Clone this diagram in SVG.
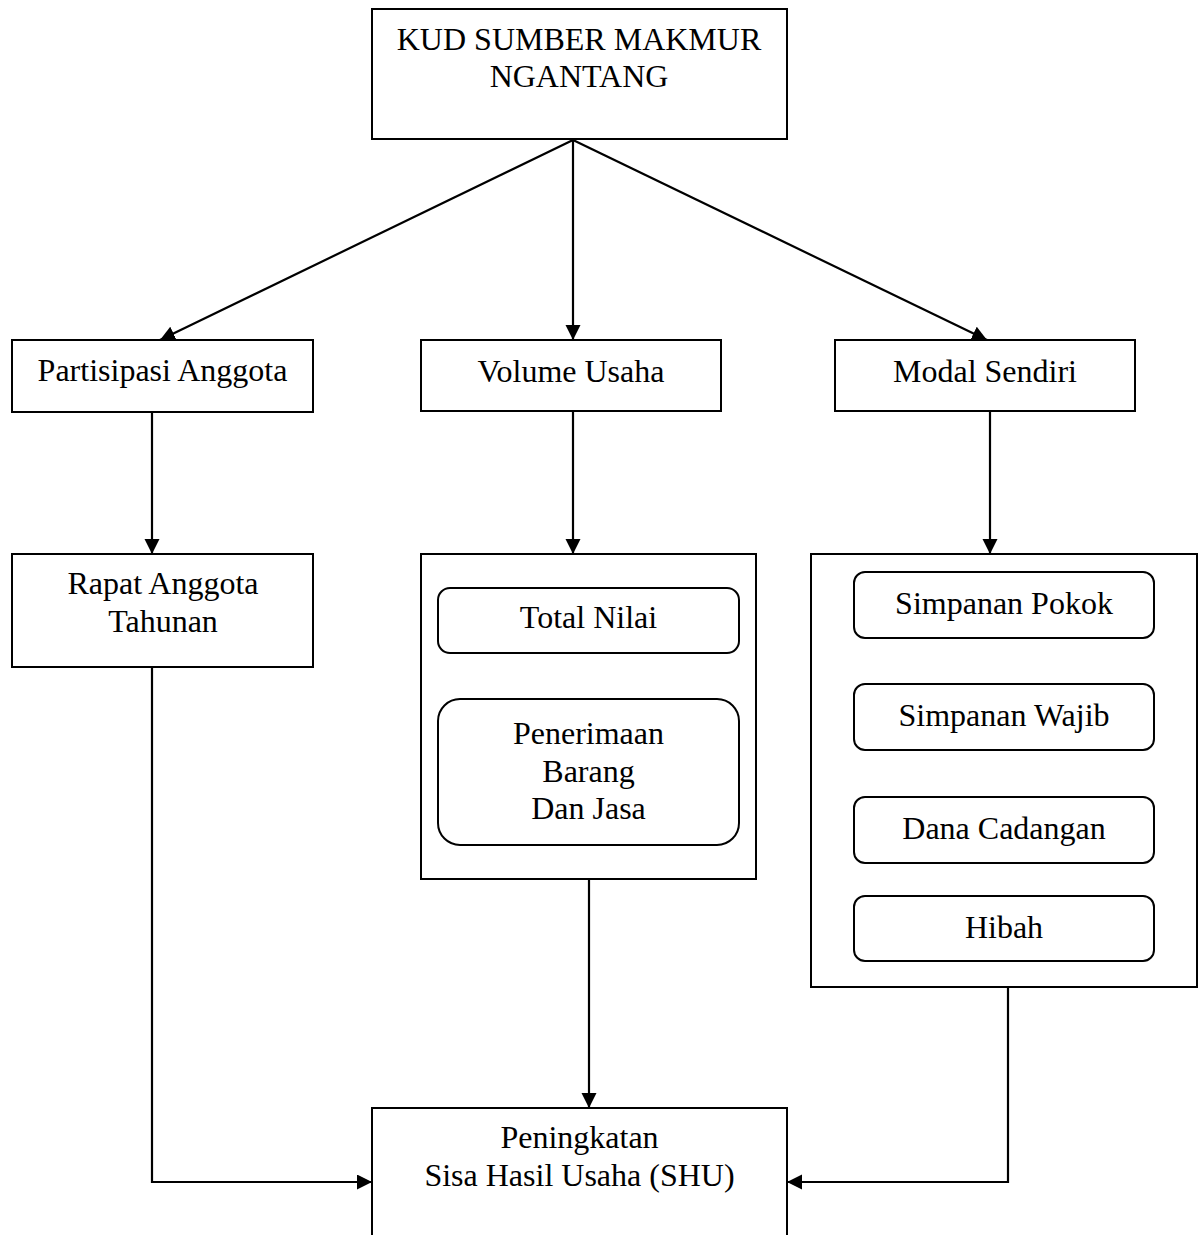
<svg xmlns="http://www.w3.org/2000/svg" width="1204" height="1235" viewBox="0 0 1204 1235">
<style>
.box{fill:#fff;stroke:#000;stroke-width:2}
.rbox{fill:#fff;stroke:#000;stroke-width:2}
.t{font-family:"Liberation Serif","Times New Roman",serif;font-size:32px;fill:#000;text-anchor:middle}
.c{fill:none;stroke:#000;stroke-width:2.2}
</style>
<defs>
<marker id="ah" markerUnits="userSpaceOnUse" markerWidth="16" markerHeight="16" refX="15" refY="7.5" orient="auto">
<path d="M0,0 L15,7.5 L0,15 z" fill="#000"/>
</marker>
</defs>
<rect width="1204" height="1235" fill="#fff"/>
<g id="connectors">
<line class="c" x1="573" y1="140" x2="160" y2="340" marker-end="url(#ah)"/>
<line class="c" x1="573" y1="140" x2="573" y2="340" marker-end="url(#ah)"/>
<line class="c" x1="573" y1="140" x2="987" y2="340" marker-end="url(#ah)"/>
<line class="c" x1="152" y1="412" x2="152" y2="554" marker-end="url(#ah)"/>
<line class="c" x1="573" y1="411" x2="573" y2="554" marker-end="url(#ah)"/>
<line class="c" x1="990" y1="411" x2="990" y2="554" marker-end="url(#ah)"/>
<polyline class="c" points="152,667 152,1182 372,1182" marker-end="url(#ah)"/>
<line class="c" x1="589" y1="879" x2="589" y2="1108" marker-end="url(#ah)"/>
<polyline class="c" points="1008,987 1008,1182 787,1182" marker-end="url(#ah)"/>
</g>
<g id="kud">
<rect class="box" x="372" y="9" width="415" height="130"/>
<text class="t" x="579" y="50">KUD SUMBER MAKMUR</text>
<text class="t" x="579" y="87">NGANTANG</text>
</g>
<g id="partisipasi">
<rect class="box" x="12" y="340" width="301" height="72"/>
<text class="t" x="162.5" y="381">Partisipasi Anggota</text>
</g>
<g id="volume">
<rect class="box" x="421" y="340" width="300" height="71"/>
<text class="t" x="571" y="382">Volume Usaha</text>
</g>
<g id="modal">
<rect class="box" x="835" y="340" width="300" height="71"/>
<text class="t" x="985" y="382">Modal Sendiri</text>
</g>
<g id="rapat">
<rect class="box" x="12" y="554" width="301" height="113"/>
<text class="t" x="163" y="594">Rapat Anggota</text>
<text class="t" x="163" y="632">Tahunan</text>
</g>
<g id="volume-detail">
<rect class="box" x="421" y="554" width="335" height="325"/>
<g id="total-nilai">
<rect class="rbox" x="438" y="588" width="301" height="65" rx="12" ry="12"/>
<text class="t" x="588.5" y="628">Total Nilai</text>
</g>
<g id="penerimaan">
<rect class="rbox" x="438" y="699" width="301" height="146" rx="22" ry="22"/>
<text class="t" x="588.5" y="744">Penerimaan</text>
<text class="t" x="588.5" y="782">Barang</text>
<text class="t" x="588.5" y="819">Dan Jasa</text>
</g>
</g>
<g id="modal-detail">
<rect class="box" x="811" y="554" width="386" height="433"/>
<g id="simpanan-pokok">
<rect class="rbox" x="854" y="572" width="300" height="66" rx="11" ry="11"/>
<text class="t" x="1004" y="614">Simpanan Pokok</text>
</g>
<g id="simpanan-wajib">
<rect class="rbox" x="854" y="684" width="300" height="66" rx="11" ry="11"/>
<text class="t" x="1004" y="726">Simpanan Wajib</text>
</g>
<g id="dana-cadangan">
<rect class="rbox" x="854" y="797" width="300" height="66" rx="11" ry="11"/>
<text class="t" x="1004" y="839">Dana Cadangan</text>
</g>
<g id="hibah">
<rect class="rbox" x="854" y="896" width="300" height="65" rx="11" ry="11"/>
<text class="t" x="1004" y="938">Hibah</text>
</g>
</g>
<g id="shu">
<rect class="box" x="372" y="1108" width="415" height="140"/>
<text class="t" x="579.5" y="1148">Peningkatan</text>
<text class="t" x="579.5" y="1186">Sisa Hasil Usaha (SHU)</text>
</g>
</svg>
